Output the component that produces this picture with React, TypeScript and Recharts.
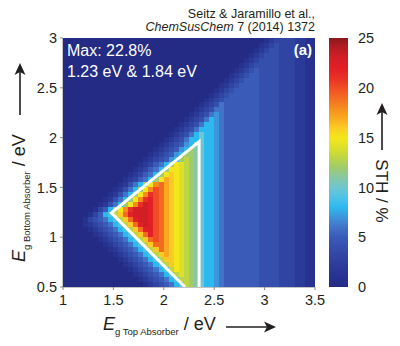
import React from "react";
import { ScatterChart, Scatter, XAxis, YAxis, ReferenceArea } from "recharts";

// STH (%) in 0.05 eV cells.
// rows: top (E_bottom 2.975) -> bottom (0.525); columns: E_top 1.025 -> 3.475
// each row = [leading navy (0 %) cells, remaining cells as base-36 digits]
const sthRows: [number, string][] = [
  [40, "1233332211"],
  [39, "12343332211"],
  [38, "123443332211"],
  [37, "1234443332211"],
  [36, "12344443332211"],
  [35, "123444443332211"],
  [34, "1234544443332211"],
  [33, "12345544443332211"],
  [32, "123455544443332211"],
  [31, "1234555544443332211"],
  [30, "12345555544443332211"],
  [29, "123455555544443332211"],
  [28, "1234555555544443332211"],
  [27, "12346555555544443332211"],
  [26, "123466555555544443332211"],
  [25, "1234676555555544443332211"],
  [24, "12346876555555544443332211"],
  [23, "123468876555555544443332211"],
  [22, "1234688876555555544443332211"],
  [21, "123468a8876555555544443332211"],
  [20, "1234688a8876555555544443332211"],
  [19, "1234578ba8876555555544443332211"],
  [18, "1234578cba8876555555544443332211"],
  [17, "1234578ccba8876555555544443332211"],
  [16, "1234578cdcba8876555555544443332211"],
  [15, "123568cfedcba8876555555544443332211"],
  [14, "123568cffedcba8876555555544443332211"],
  [13, "123568cfgfedcba8876555555544443332211"],
  [12, "123568cfhgfedcba8876555555544443332211"],
  [11, "12468cfijhgfedcba8876555555544443332211"],
  [10, "12468cfikjhgfedcba8876555555544443332211"],
  [9, "12468cfilkjhgfedcba8876555555544443332211"],
  [8, "12468cfilmkjhgfedcba8876555555544443332211"],
  [7, "12468cfilnmkjhgfedcba8876555555544443332211"],
  [6, "1358cfilnnnmkjhgfedcba8876555555544443332211"],
  [5, "13589dgjmnnnmkjhgfedcba8876555555544443332211"],
  [4, "1345689dgjmnnmkjhgfedcba8876555555544443332211"],
  [4, "12345689dgjmnmkjhgfedcba8876555555544443332211"],
  [5, "12345689dgjmmkjhgfedcba8876555555544443332211"],
  [6, "12345689dgjmkjhgfedcba8876555555544443332211"],
  [7, "12345689dgjkjhgfedcba8876555555544443332211"],
  [8, "12345689dgjjhgfedcba8876555555544443332211"],
  [9, "12345689dgjhgfedcba8876555555544443332211"],
  [10, "12345689dghgfedcba8876555555544443332211"],
  [11, "12345689dggfedcba8876555555544443332211"],
  [12, "12345689dgfedcba8876555555544443332211"],
  [13, "12345689dfedcba8876555555544443332211"],
  [14, "12345689dedcba8876555555544443332211"],
  [15, "12345689ddcba8876555555544443332211"],
  [16, "12345689dcba8876555555544443332211"],
];

const xTicks = [1, 1.5, 2, 2.5, 3, 3.5];
const yTicks = [0.5, 1, 1.5, 2, 2.5, 3];
const sthTicks = [0, 5, 10, 15, 20, 25];

// white outline of the current-matched region
const outline = [
  { x: 2.21, y: 0.5 },
  { x: 1.48, y: 1.245 },
  { x: 2.35, y: 1.96 },
  { x: 2.35, y: 0.5 },
];

// jet-like colour for 0..25 %
const palette = [
  "#232b84", "#27328f", "#2b3a98", "#3044a2", "#354fad", "#3a5bb8", "#4173c8",
  "#3d95dc", "#2cb9ef", "#4fc2e8", "#6fc6d0", "#86c8a2", "#a0cb6c", "#bfd644",
  "#dde02b", "#f3e61a", "#fbca24", "#f9a820", "#f68b1f", "#f36b21", "#ef4d24",
  "#e93026", "#e11f26", "#d31e25", "#b51c22", "#8b181c",
];

const COLS = 50;
const STEP = 0.05;
const FONT = '"Liberation Sans", Arial, sans-serif';
const CELL_W = 252 / COLS + 0.5;
const CELL_H = 249 / sthRows.length + 0.5;

const cells: { x: number; y: number; v: number }[] = [];
sthRows.forEach(([skip, vals], i) => {
  for (let j = 0; j < COLS; j++) {
    const ch = j < skip ? "0" : vals[j - skip] ?? "0";
    cells.push({ x: 1 + STEP * (j + 0.5), y: 3 - STEP * (i + 0.5), v: parseInt(ch, 36) });
  }
});

const barTicks = sthTicks.map((t) => ({ x: 0.5, y: t }));

const Cell = (p: any) => (
  <rect
    x={p.cx - CELL_W / 2}
    y={p.cy - CELL_H / 2}
    width={CELL_W}
    height={CELL_H}
    fill={palette[p.payload.v]}
    shapeRendering="crispEdges"
  />
);

const tickStyle = { fill: "#231f20", fontSize: 14.5, fontFamily: FONT };

export default function App() {
  return (
    <div style={{ position: "absolute", left: 0, top: 0, width: 400, height: 346, background: "#fff" }}>
      <ScatterChart width={400} height={346} margin={{ top: 38, right: 85, bottom: 29, left: 0 }}>
        <XAxis
          dataKey="x"
          type="number"
          domain={[1, 3.5]}
          ticks={xTicks}
          height={30}
          tickSize={3}
          tickMargin={5}
          stroke="#888"
          tick={tickStyle}
          allowDataOverflow
        />
        <YAxis
          dataKey="y"
          type="number"
          domain={[0.5, 3]}
          ticks={yTicks}
          width={63}
          tickSize={3}
          tickMargin={3}
          stroke="#888"
          tick={tickStyle}
          allowDataOverflow
        />
        <Scatter data={cells} shape={Cell} isAnimationActive={false} />
        <Scatter
          data={outline}
          line={{ stroke: "#fff", strokeWidth: 3, strokeLinejoin: "miter" }}
          shape={() => <g />}
          isAnimationActive={false}
        />
      </ScatterChart>

      <div style={{ position: "absolute", left: 329, top: 0 }}>
        <ScatterChart width={71} height={346} margin={{ top: 38, right: 0, bottom: 59, left: 0 }}>
          <defs>
            <linearGradient id="sthGrad" x1="0" y1="1" x2="0" y2="0">
              {palette.map((c, v) => (
                <stop key={v} offset={v / 25} stopColor={c} />
              ))}
            </linearGradient>
          </defs>
          <XAxis type="number" dataKey="x" domain={[0, 1]} hide />
          <YAxis
            type="number"
            dataKey="y"
            orientation="right"
            domain={[0, 25]}
            ticks={sthTicks}
            width={52}
            tickLine={false}
            axisLine={false}
            tickMargin={4}
            tick={tickStyle}
          />
          <ReferenceArea x1={0} x2={1} y1={0} y2={25} fill="url(#sthGrad)" fillOpacity={1} />
          <Scatter data={barTicks} shape={() => <g />} isAnimationActive={false} />
        </ScatterChart>
      </div>

      <svg width={400} height={346} style={{ position: "absolute", left: 0, top: 0, pointerEvents: "none" }} fontFamily={FONT}>
        <text x={315} y={18} textAnchor="end" fontSize={12.5} fill="#231f20">Seitz &amp; Jaramillo et al.,</text>
        <text x={315} y={31} textAnchor="end" fontSize={12.5} fill="#231f20">
          <tspan fontStyle="italic">ChemSusChem</tspan> 7 (2014) 1372
        </text>

        <text x={67} y={56} fontSize={16} fill="#fff">Max: 22.8%</text>
        <text x={67} y={77} fontSize={16} fill="#fff">1.23 eV &amp; 1.84 eV</text>
        <text x={312} y={55} textAnchor="end" fontSize={15} fontWeight="bold" fill="#fff">(a)</text>

        <text x={103} y={330} fill="#231f20">
          <tspan fontSize={18} fontStyle="italic">E</tspan>
          <tspan fontSize={9.5} dy={5}>g Top Absorber</tspan>
          <tspan fontSize={18} dy={-5}> / eV</tspan>
        </text>
        <line x1={226} y1={327} x2={268} y2={327} stroke="#231f20" strokeWidth={1.6} />
        <path d="M276,327 L264,321.5 L267,327 L264,332.5 Z" fill="#231f20" />

        <text transform="translate(25,262) rotate(-90)" fill="#231f20">
          <tspan fontSize={18} fontStyle="italic">E</tspan>
          <tspan fontSize={9.5} dy={5}>g Bottom Absorber</tspan>
          <tspan fontSize={18} dy={-5}> / eV</tspan>
        </text>
        <line x1={20} y1={115} x2={20} y2={72} stroke="#231f20" strokeWidth={1.6} />
        <path d="M20,63 L14.5,75 L20,72 L25.5,75 Z" fill="#231f20" />

        <text transform="translate(376,191) rotate(90)" textAnchor="middle" fontSize={17} fill="#231f20">STH / %</text>
        <line x1={382} y1={150} x2={382} y2={112} stroke="#231f20" strokeWidth={1.6} />
        <path d="M382,103 L376.5,115 L382,112 L387.5,115 Z" fill="#231f20" />
      </svg>
    </div>
  );
}
